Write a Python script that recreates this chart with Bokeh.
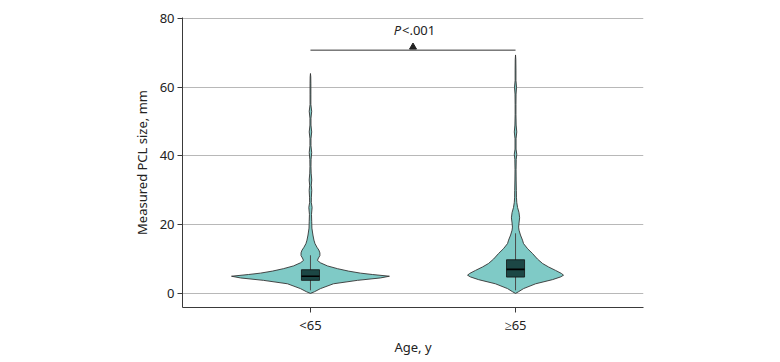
from bokeh.plotting import figure
from bokeh.models import Range1d, FixedTicker
from bokeh.embed import file_html
from bokeh.resources import INLINE
from bokeh.core.properties import value

# Age groups on the x axis
groups = ["<65", "≥65"]

# Violin outlines: PCL size (mm) and half-width of the density at that size
young_y = [0, 0.5, 1.4, 2.8, 3.8, 4.5, 5.0, 5.5, 5.9, 6.5, 7.2, 8.0, 8.9, 9.6,
           10.3, 11.0, 11.8, 12.6, 13.4, 14.5, 15.5, 17, 19, 21, 23, 25, 26.5,
           28, 30, 31.5, 33, 35, 37, 39, 41, 43, 45, 47, 49, 51, 53, 55, 58,
           61, 63, 64]
young_w = [0, 0.020, 0.049, 0.112, 0.229, 0.341, 0.385, 0.302, 0.244, 0.185,
           0.132, 0.083, 0.049, 0.034, 0.039, 0.046, 0.046, 0.041, 0.032,
           0.022, 0.017, 0.012, 0.007, 0.006, 0.005, 0.008, 0.004, 0.0045,
           0.0063, 0.004, 0.0063, 0.0034, 0.0025, 0.003, 0.006, 0.0025,
           0.0025, 0.006, 0.0025, 0.0025, 0.006, 0.002, 0.002, 0.002, 0.0015, 0]

older_y = [0, 0.5, 1.4, 2.8, 4.0, 4.8, 5.3, 5.8, 6.7, 7.7, 8.7, 10.0, 11.6,
           13.0, 14.5, 15.5, 17, 18.4, 19.3, 20.5, 22, 23.5, 25, 26.5, 28, 30,
           33, 36, 39, 40.5, 42, 45, 47, 49, 52, 55, 58, 60, 62, 65, 68, 69.4]
older_w = [0, 0.015, 0.039, 0.098, 0.180, 0.220, 0.234, 0.224, 0.195, 0.161,
           0.132, 0.107, 0.083, 0.059, 0.039, 0.034, 0.024, 0.017, 0.015,
           0.017, 0.020, 0.017, 0.010, 0.006, 0.0044, 0.004, 0.003, 0.0025,
           0.0034, 0.006, 0.0025, 0.0025, 0.006, 0.003, 0.002, 0.002, 0.0025,
           0.005, 0.002, 0.002, 0.0015, 0]

# Box plot summaries per group
q1 = [3.8, 4.75]
median = [5.0, 7.0]
q3 = [6.9, 9.8]
whisker_lo = [0.9, 0.9]
whisker_hi = [11.1, 17.5]

y_ticks = [0, 20, 40, 60, 80]
bracket_y = 70.8
p_text = ["P", "<.001"]

FONT = "Noto Sans"
VIOLIN_FILL = "#7fcac6"
BOX_FILL = "#1c4745"
EDGE = "#333333"

p = figure(width=780, height=362, output_backend="svg", toolbar_location=None,
           x_range=Range1d(-0.624, 1.624), y_range=Range1d(-4.1, 80.3),
           min_border_left=182, min_border_right=137, min_border_top=17,
           min_border_bottom=55)
p.outline_line_color = None
p.background_fill_color = "white"
p.border_fill_color = "white"

# Grid
p.xgrid.grid_line_color = None
p.ygrid.ticker = FixedTicker(ticks=y_ticks)
p.ygrid.grid_line_color = "#b8b8b8"
p.ygrid.grid_line_width = 1

# Axes
for ax in (p.xaxis[0], p.yaxis[0]):
    ax.axis_line_color = "#3a3a3a"
    ax.major_tick_line_color = "#3a3a3a"
    ax.major_tick_out = 5
    ax.major_tick_in = 0
    ax.minor_tick_line_color = None
    ax.major_label_text_font = FONT
    ax.major_label_text_font_size = "13px"
    ax.major_label_text_color = "#222222"
    ax.axis_label_text_font = FONT
    ax.axis_label_text_font_size = "13px"
    ax.axis_label_text_font_style = "normal"
    ax.axis_label_text_color = "#222222"

p.xaxis.ticker = FixedTicker(ticks=list(range(len(groups))))
p.xaxis.major_label_overrides = {i: g for i, g in enumerate(groups)}
p.xaxis.axis_label = "Age, y"
p.xaxis.major_label_standoff = 3
p.xaxis.axis_label_standoff = 1

p.yaxis.ticker = FixedTicker(ticks=y_ticks)
p.yaxis.axis_label = "Measured PCL size, mm"
p.yaxis.major_label_standoff = 3
p.yaxis.axis_label_standoff = 6

# Violins
for i, (ys, ws) in enumerate([(young_y, young_w), (older_y, older_w)]):
    xs = [i - w for w in ws] + [i + w for w in reversed(ws)]
    yy = list(ys) + list(reversed(ys))
    p.patch(xs, yy, fill_color=VIOLIN_FILL, line_color=EDGE, line_width=0.9)

# Box plots inside the violins
box_half = 0.044
centers = list(range(len(groups)))
p.segment(x0=centers, y0=whisker_lo, x1=centers, y1=whisker_hi,
          line_color="#4a4a4a", line_width=1)
p.quad(left=[c - box_half for c in centers], right=[c + box_half for c in centers],
       bottom=q1, top=q3, fill_color=BOX_FILL, line_color="#111111", line_width=0.8)
p.segment(x0=[c - box_half for c in centers], y0=median,
          x1=[c + box_half for c in centers], y1=median,
          line_color="#000000", line_width=1.6)

# Significance bracket
p.segment(x0=[centers[0]], y0=[bracket_y], x1=[centers[1]], y1=[bracket_y],
          line_color="#333333", line_width=1)
mid = (centers[0] + centers[1]) / 2
p.scatter(x=[mid], y=[bracket_y + 0.9], marker="triangle", size=7,
          fill_color="#222222", line_color="#222222")
p.text(x=[mid], y=[bracket_y + 3.3], text=[p_text[0]], text_font=value(FONT),
       text_font_size="13px", text_font_style="italic", text_align="right",
       text_baseline="bottom", x_offset=-12, text_color="#222222")
p.text(x=[mid], y=[bracket_y + 3.3], text=[p_text[1]], text_font=value(FONT),
       text_font_size="13px", text_align="left", text_baseline="bottom",
       x_offset=-11, text_color="#222222")

open("out.html", "w").write(file_html(p, INLINE))
